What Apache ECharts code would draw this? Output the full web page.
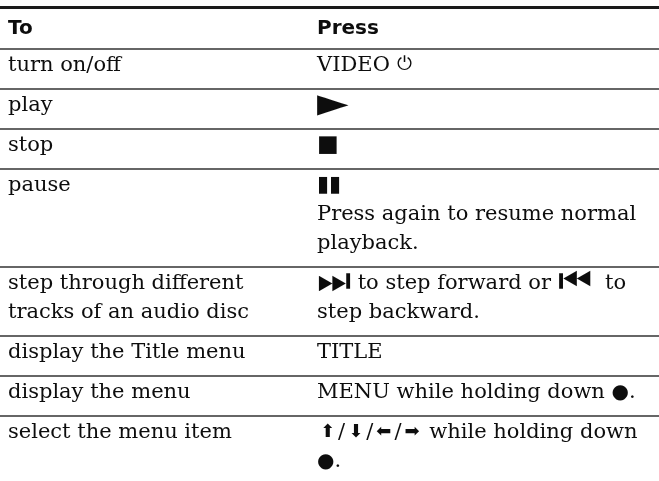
<!DOCTYPE html>
<html>
<head>
<meta charset="utf-8">
<script src="https://cdn.jsdelivr.net/npm/echarts@6/dist/echarts.min.js"></script>
<style>
html,body{margin:0;padding:0;background:#fff;}
#chart{width:659px;height:481px;}
</style>
</head>
<body>
<div id="chart"></div>
<script>
// ---- table content ----
const headers = ['To', 'Press'];
const actions = [
  'turn on/off',
  'play',
  'stop',
  'pause',
  'step through different\ntracks of an audio disc',
  'display the Title menu',
  'display the menu',
  'select the menu item'
];
const presses = [
  'VIDEO ⏻',
  '►',
  '■',
  '▮▮\nPress again to resume normal\nplayback.',
  '⏭ to step forward or ⏮  to\nstep backward.',
  'TITLE',
  'MENU while holding down ●.',
  '⬆/⬇/⬅/➡ while holding down\n●.'
];

// ---- layout / style constants ----
const W = 659, H = 481;
const TOP_RULE = 7.5;
const HEADER_H = 41.5;
const LINE_H = 29;
const ROW_PAD = 11;
const COL_X = [8, 317];
const SERIF = '"DejaVu Serif", serif';
const SANS = '"DejaVu Sans", sans-serif';
const INK = '#0d0d0d';

const SYM = {'⏻':'pw','►':'play','■':'stop','▮':'pause','⏭':'skip','⏮':'skip','●':'dot','⬆':'arr','⬇':'arr','⬅':'arr','➡':'arr'};
const rich = {
  pw:   {fontFamily: SANS, fontSize: 19, lineHeight: LINE_H, fill: INK},
  play: {fontFamily: SANS, fontSize: 41, lineHeight: LINE_H, fill: INK},
  stop: {fontFamily: SANS, fontSize: 23, lineHeight: LINE_H, fill: INK},
  pause:{fontFamily: SANS, fontSize: 22, lineHeight: LINE_H, fill: INK},
  skip: {fontFamily: SANS, fontSize: 38, lineHeight: LINE_H, fill: INK},
  dot:  {fontFamily: SANS, fontSize: 20, lineHeight: LINE_H, fill: INK},
  arr:  {fontFamily: SANS, fontSize: 18, lineHeight: LINE_H, fill: INK, padding: [0, 3]}
};
function toRich(s) {
  return s.replace(/[⏻►■▮⏭⏮●⬆⬇⬅➡]+/g, m => '{' + SYM[m[0]] + '|' + m + '}');
}

// rows: [index, top, height] computed from line counts
const rows = [];
let y = TOP_RULE + HEADER_H;
actions.forEach((a, i) => {
  const n = Math.max(a.split('\n').length, presses[i].split('\n').length);
  const h = ROW_PAD + LINE_H * n;
  rows.push([i, y, h]);
  y += h;
});

const chart = echarts.init(document.getElementById('chart'), null, {renderer: 'canvas'});
chart.setOption({
  animation: false,
  backgroundColor: '#fff',
  grid: {left: 0, right: 0, top: 0, bottom: 0},
  xAxis: {type: 'value', min: 0, max: W, show: false},
  yAxis: {type: 'value', min: 0, max: H, inverse: true, show: false},
  series: [
    {
      type: 'custom',
      name: 'header',
      data: [[0, TOP_RULE, HEADER_H]],
      renderItem: function (params, api) {
        const p0 = api.coord([0, api.value(1)]);
        const p1 = api.coord([W, api.value(1) + api.value(2)]);
        const children = [
          {type: 'line', shape: {x1: p0[0], y1: p0[1], x2: p1[0], y2: p0[1]}, style: {stroke: '#1a1a1a', lineWidth: 3}},
          {type: 'line', shape: {x1: p0[0], y1: p1[1], x2: p1[0], y2: p1[1]}, style: {stroke: '#333', lineWidth: 1.5}}
        ];
        headers.forEach((t, c) => {
          children.push({type: 'text', style: {text: t, x: api.coord([COL_X[c], 0])[0], y: p0[1] + 7,
            font: 'bold 20px ' + SANS, fill: INK, lineHeight: LINE_H, verticalAlign: 'top'}});
        });
        return {type: 'group', children: children};
      }
    },
    {
      type: 'custom',
      name: 'rows',
      data: rows,
      renderItem: function (params, api) {
        const i = api.value(0);
        const top = api.value(1), h = api.value(2);
        const p0 = api.coord([0, top]);
        const p1 = api.coord([W, top + h]);
        const cells = [actions[i], presses[i]];
        const children = [
          {type: 'line', shape: {x1: p0[0], y1: p1[1], x2: p1[0], y2: p1[1]}, style: {stroke: '#333', lineWidth: 1.5}}
        ];
        cells.forEach((t, c) => {
          children.push({type: 'text', style: {text: toRich(t), rich: rich,
            x: api.coord([COL_X[c], 0])[0], y: p0[1] + 2,
            fontFamily: SERIF, fontSize: 21, fill: INK, lineHeight: LINE_H, verticalAlign: 'top'}});
        });
        return {type: 'group', children: children};
      }
    }
  ]
});
</script>
</body>
</html>
